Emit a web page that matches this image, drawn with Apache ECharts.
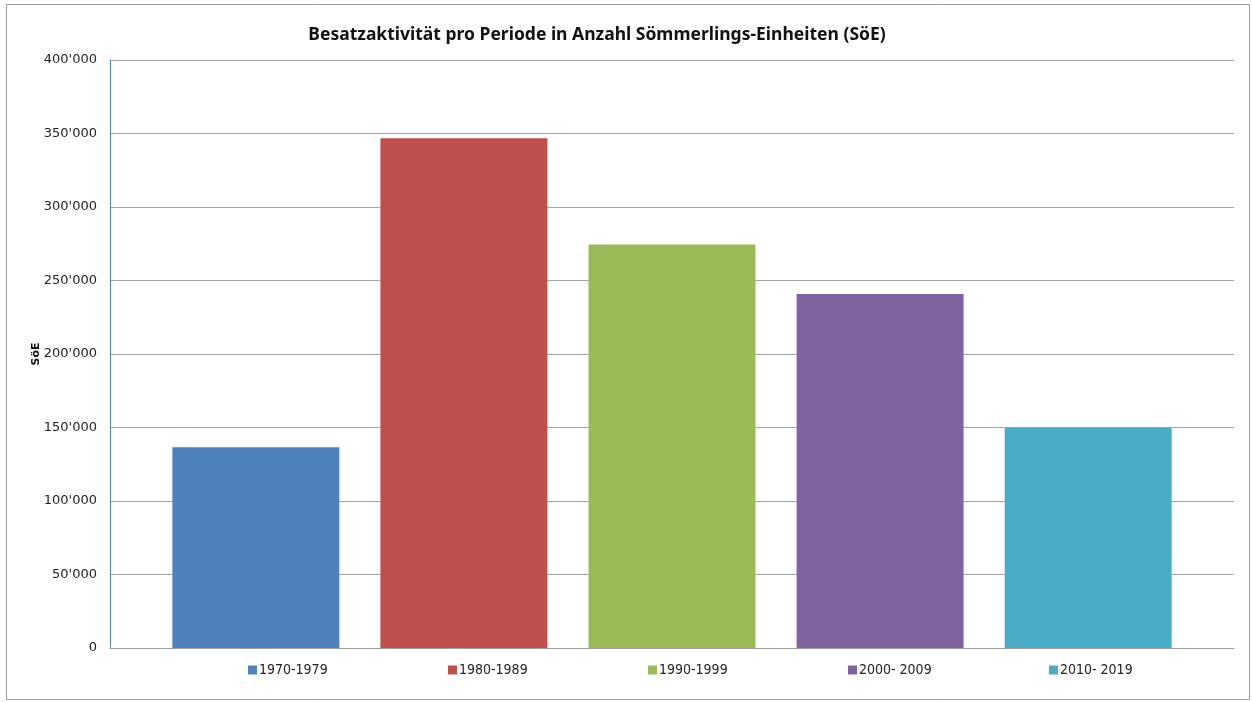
<!DOCTYPE html>
<html>
<head>
<meta charset="utf-8">
<script src="https://cdn.jsdelivr.net/npm/echarts@6/dist/echarts.min.js"></script>
<style>
  html, body { margin: 0; padding: 0; background: #fff; }
  #chart { width: 1252px; height: 702px; }
</style>
</head>
<body>
<div id="chart"></div>
<script>
// data
var periods = ["1970-1979", "1980-1989", "1990-1999", "2000- 2009", "2010- 2019"];
var values = [136500, 346800, 274500, 240800, 149800];
var colors = ["#4F81BD", "#C0504D", "#9BBB59", "#8064A2", "#4BACC6"];
var legendLeft = [248, 448, 648, 848, 1049];

var titleText = "Besatzaktivität pro Periode in Anzahl Sömmerlings-Einheiten (SöE)";
var yName = "SöE";

function fmt(v) {
  return String(v).replace(/\B(?=(\d{3})+(?!\d))/g, "'");
}

// eine Serie pro Periode, alle in einer Kategorie
var series = [];
var legends = [];
for (var i = 0; i < periods.length; i++) {
  series.push({
    name: periods[i],
    type: "bar",
    data: [values[i]],
    barWidth: 167,
    barGap: "24.6%",
    itemStyle: { color: colors[i] }
  });
  legends.push({
    data: [periods[i]],
    left: legendLeft[i],
    top: 663,
    padding: 0,
    icon: "rect",
    itemWidth: 9,
    itemHeight: 9,
    itemGap: 3,
    textStyle: {
      color: "#222",
      fontSize: 14,
      fontFamily: "DejaVu Sans Condensed, Liberation Sans Narrow, sans-serif",
      padding: [0, 0, 0, -3]
    }
  });
}

var option = {
  animation: false,
  backgroundColor: "#fff",
  title: {
    text: titleText,
    left: 592,
    textAlign: "center",
    top: 21,
    textStyle: {
      color: "#111",
      fontSize: 17.5,
      fontWeight: "bold",
      fontFamily: "Noto Sans, sans-serif"
    }
  },
  legend: legends,
  grid: {
    left: 110,
    right: 18,
    top: 60,
    bottom: 54
  },
  xAxis: {
    type: "category",
    data: [""],
    axisLine: { lineStyle: { color: "#a0a0a0" } },
    axisTick: { show: false },
    axisLabel: { show: false }
  },
  yAxis: {
    type: "value",
    min: 0,
    max: 400000,
    interval: 50000,
    name: yName,
    nameLocation: "middle",
    nameGap: 68,
    nameMoveOverlap: false,
    nameRotate: 90,
    nameTextStyle: {
      color: "#111",
      fontSize: 11,
      fontWeight: "bold",
      fontFamily: "DejaVu Sans, sans-serif"
    },
    axisLine: { show: true, lineStyle: { color: "#4F81BD" } },
    axisTick: { show: false },
    axisLabel: {
      margin: 13,
      color: "#222",
      fontSize: 13,
      fontFamily: "DejaVu Sans, sans-serif",
      formatter: fmt
    },
    splitLine: { lineStyle: { color: "#a6a6a6" } }
  },
  graphic: [
    {
      type: "rect",
      shape: { x: 6.5, y: 4.5, width: 1243, height: 695 },
      style: { fill: null, stroke: "#a0a0a0", lineWidth: 1 },
      silent: true
    }
  ],
  series: series
};

var myChart = echarts.init(document.getElementById("chart"));
myChart.setOption(option);
</script>
</body>
</html>
